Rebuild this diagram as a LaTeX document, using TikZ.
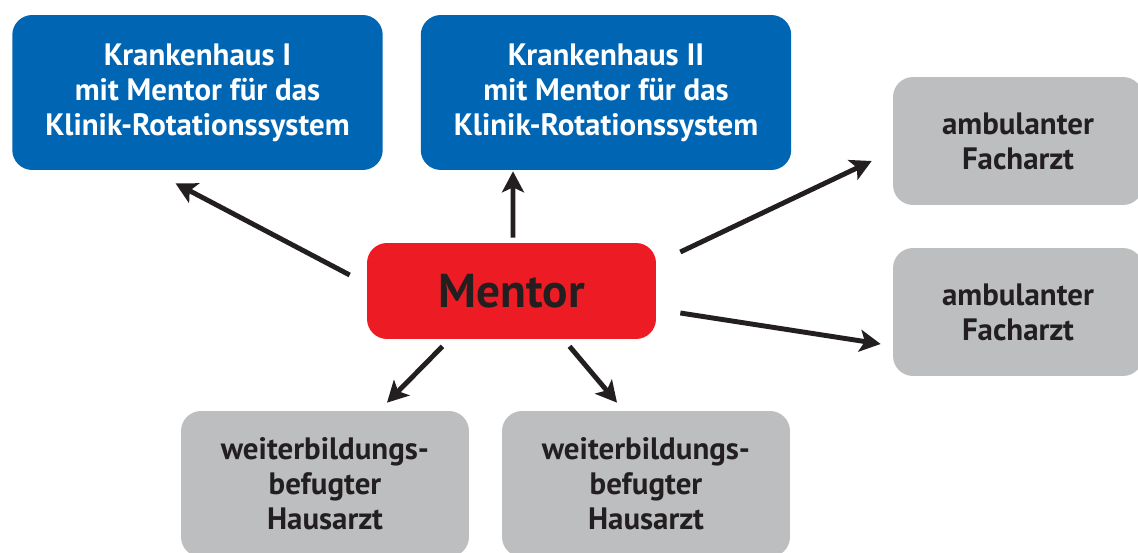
\documentclass[tikz,border=0pt]{standalone}
\usepackage{fontspec}
\setmainfont{PT Sans}
\usepackage{tikz}
\usetikzlibrary{positioning,arrows.meta}
\usepackage{xcolor}
\definecolor{klinikblue}{HTML}{0066B3}
\definecolor{mentorred}{HTML}{ED1C24}
\definecolor{praxisgrey}{HTML}{BCBEC0}
\definecolor{inkdark}{HTML}{231F20}

\begin{document}
\begin{tikzpicture}[
    x=0.02cm, y=-0.02cm,
    klinik/.style={fill=klinikblue, text=white, minimum width=7.41cm, minimum height=3.1cm, align=center, rounded corners=0.4cm, inner sep=0pt, font=\bfseries\fontsize{17.6}{20}\selectfont},
    praxis/.style={fill=praxisgrey, text=inkdark, align=center, rounded corners=0.4cm, inner sep=0pt, font=\bfseries\fontsize{17.6}{20}\selectfont},
    mentorbox/.style={fill=mentorred, text=inkdark, minimum width=5.78cm, minimum height=1.92cm, rounded corners=0.4cm, inner sep=0pt, font=\bfseries\fontsize{27}{32}\selectfont},
    link/.style={-{Stealth[length=4.2mm, width=4.4mm, inset=1mm]}, line width=2.8pt, color=inkdark},
]
\useasboundingbox (0,0) rectangle (1138,553);

\node[klinik] (kh1) at (197.5,92.5) {Krankenhaus I\\mit Mentor für das\\Klinik-Rotationssystem};
\node[klinik] (kh2) at (606,92.5) {Krankenhaus II\\mit Mentor für das\\Klinik-Rotationssystem};
\node[praxis, minimum width=5cm, minimum height=2.56cm] (fa1) at (1018,141) {ambulanter\\Facharzt};
\node[praxis, minimum width=5cm, minimum height=2.56cm] (fa2) at (1018,312) {ambulanter\\Facharzt};
\node[mentorbox] (mentor) at (511.5,291) {Mentor};
\node[praxis, minimum width=5.76cm, minimum height=2.92cm] (wb1) at (325,484) {weiterbildungs-\\befugter\\Hausarzt};
\node[praxis, minimum width=5.76cm, minimum height=2.92cm] (wb2) at (646,484) {weiterbildungs-\\befugter\\Hausarzt};

\draw[link] ([shift={(-17,-16)}]mentor.west) -- ([shift={(-22,13)}]kh1.south);
\draw[link] ([shift={(1.5,-5)}]mentor.north) -- ([shift={(-93,1)}]kh2.south);
\draw[link] ([shift={(24,-39)}]mentor.east) -- ([shift={(-21,20)}]fa1.west);
\draw[link] ([shift={(24,22)}]mentor.east) -- ([shift={(-12,32)}]fa2.west);
\draw[link] ([shift={(-69,7)}]mentor.south) -- ([shift={(62,-8)}]wb1.north);
\draw[link] ([shift={(58,7)}]mentor.south) -- ([shift={(-29,-8)}]wb2.north);
\end{tikzpicture}
\end{document}
